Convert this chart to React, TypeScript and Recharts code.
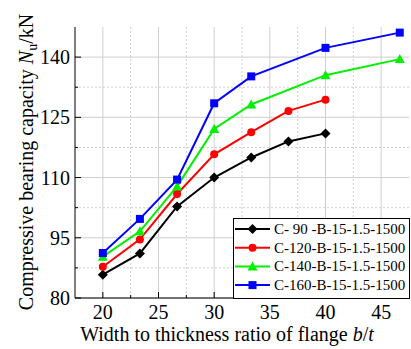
import React from 'react';
import { LineChart, Line, XAxis, YAxis, CartesianGrid } from 'recharts';

const ratios = [20, 23.33, 26.67, 30, 33.33, 36.67, 40, 46.67];
const c90 = [85.8, 91.1, 102.8, 110.0, 115.0, 119.0, 121.0, null];
const c120 = [87.8, 94.6, 105.9, 115.8, 121.3, 126.6, 129.4, null];
const c140 = [90.3, 96.6, 107.8, 122.1, 128.2, null, 135.5, 139.5];
const c160 = [91.2, 99.7, 109.5, 128.5, 135.2, null, 142.3, 146.1];
const seriesNames = ['C- 90 -B-15-1.5-1500', 'C-120-B-15-1.5-1500', 'C-140-B-15-1.5-1500', 'C-160-B-15-1.5-1500'];
const seriesKeys = ['c90', 'c120', 'c140', 'c160'];
const seriesColors = ['#000000', '#ff0000', '#00f000', '#0000ff'];
const seriesShapes = ['diamond', 'circle', 'triangle', 'square'];
const xMajorTicks = [20, 25, 30, 35, 40, 45];
const xMinorTicks = [22.5, 27.5, 32.5, 37.5, 42.5];
const yMajorTicks = [80, 95, 110, 125, 140];
const yMinorTicks = [87.5, 102.5, 117.5, 132.5];
const xDomain = [17.5, 47.5];
const yDomain = [80, 147.5];

const data = ratios.map((x, i) => ({ x, c90: c90[i], c120: c120[i], c140: c140[i], c160: c160[i] }));

const FONT = '"Liberation Serif", "Times New Roman", serif';

function Marker({ shape, cx, cy, color }: any) {
  if (cx == null || cy == null || isNaN(cy)) return null;
  if (shape === 'diamond') {
    return <polygon points={`${cx},${cy - 5} ${cx + 5},${cy} ${cx},${cy + 5} ${cx - 5},${cy}`} fill={color} />;
  }
  if (shape === 'circle') return <circle cx={cx} cy={cy} r={4} fill={color} />;
  if (shape === 'triangle') {
    return <polygon points={`${cx},${cy - 5} ${cx + 5},${cy + 4} ${cx - 5},${cy + 4}`} fill={color} />;
  }
  return <rect x={cx - 4} y={cy - 4} width={8} height={8} fill={color} />;
}

const allX = [...xMajorTicks, ...xMinorTicks].sort((a, b) => a - b);
const allY = [...yMajorTicks, ...yMinorTicks].sort((a, b) => a - b);

const BottomTick = (p: any) => {
  const major = xMajorTicks.includes(p.payload.value);
  return (
    <g>
      <line x1={p.x} x2={p.x} y1={p.y} y2={p.y - (major ? 6 : 3)} stroke="#000" />
      {major && (
        <text x={p.x} y={p.y + 21} textAnchor="middle" fontSize={20} fontFamily={FONT} fill="#000">
          {p.payload.value}
        </text>
      )}
    </g>
  );
};
const TopTick = (p: any) => {
  const major = xMajorTicks.includes(p.payload.value);
  return <line x1={p.x} x2={p.x} y1={p.y} y2={p.y + (major ? 6 : 3)} stroke="#000" />;
};
const LeftTick = (p: any) => {
  const major = yMajorTicks.includes(p.payload.value);
  return (
    <g>
      <line x1={p.x} x2={p.x + (major ? 6 : 3)} y1={p.y} y2={p.y} stroke="#000" />
      {major && (
        <text x={p.x - 5} y={p.y + 7} textAnchor="end" fontSize={20} fontFamily={FONT} fill="#000">
          {p.payload.value}
        </text>
      )}
    </g>
  );
};
const RightTick = (p: any) => {
  const major = yMajorTicks.includes(p.payload.value);
  return <line x1={p.x} x2={p.x - (major ? 6 : 3)} y1={p.y} y2={p.y} stroke="#000" />;
};

const YLabel = () => (
  <text transform="translate(33,162) rotate(-90)" textAnchor="middle" fontSize={20} fontFamily={FONT} fill="#000">
    Compressive bearing capacity <tspan fontStyle="italic">N</tspan>
    <tspan fontSize={14} dy={4}>u</tspan>
    <tspan dy={-4}>/kN</tspan>
  </text>
);

const XLabel = () => (
  <text x={227} y={341} textAnchor="middle" fontSize={20} fontFamily={FONT} fill="#000">
    Width to thickness ratio of flange <tspan fontStyle="italic">b</tspan>/<tspan fontStyle="italic">t</tspan>
  </text>
);

function LegendBox() {
  return (
    <svg width={177} height={81} style={{ position: 'absolute', left: 233, top: 218 }}>
      <rect x={0.5} y={0.5} width={176} height={80} fill="#fff" stroke="#000" />
      {seriesNames.map((name, i) => {
        const cy = 11 + i * 18.7;
        return (
          <g key={name}>
            <line x1={2} x2={37} y1={cy} y2={cy} stroke={seriesColors[i]} strokeWidth={2} />
            <Marker shape={seriesShapes[i]} cx={19.5} cy={cy} color={seriesColors[i]} />
            <text x={41} y={cy + 5} fontSize={15} fontFamily={FONT} fill="#000">
              {name}
            </text>
          </g>
        );
      })}
    </svg>
  );
}

export default function App() {
  return (
    <div style={{ position: 'absolute', left: 0, top: 0, width: 411, height: 349, background: '#fff' }}>
      <LineChart width={411} height={349} data={data} margin={{ top: 27, right: 2, bottom: 0, left: 0 }}>
        <CartesianGrid
          horizontalValues={yMinorTicks}
          verticalValues={xMinorTicks}
          stroke="#cfcfcf"
          strokeDasharray="2 2"
        />
        <CartesianGrid horizontalValues={yMajorTicks} verticalValues={xMajorTicks} stroke="#cfcfcf" />
        <XAxis
          dataKey="x"
          type="number"
          domain={xDomain}
          ticks={allX}
          interval={0}
          height={51}
          tickSize={0}
          tickMargin={0}
          tickLine={false}
          tick={BottomTick}
          axisLine={{ stroke: '#000' }}
          allowDataOverflow
          label={{ content: XLabel }}
        />
        <XAxis
          xAxisId="top"
          orientation="top"
          dataKey="x"
          type="number"
          domain={xDomain}
          ticks={allX}
          interval={0}
          height={0}
          tickSize={0}
          tickMargin={0}
          tickLine={false}
          tick={TopTick}
          axisLine={{ stroke: '#000' }}
          allowDataOverflow
        />
        <YAxis
          type="number"
          domain={yDomain}
          ticks={allY}
          interval={0}
          width={75}
          tickSize={0}
          tickMargin={0}
          tickLine={false}
          tick={LeftTick}
          axisLine={{ stroke: '#000' }}
          allowDataOverflow
          label={{ content: YLabel }}
        />
        <YAxis
          yAxisId="right"
          orientation="right"
          type="number"
          domain={yDomain}
          ticks={allY}
          interval={0}
          width={0}
          tickSize={0}
          tickMargin={0}
          tickLine={false}
          tick={RightTick}
          axisLine={{ stroke: '#000' }}
          allowDataOverflow
        />
        {seriesKeys.map((k, i) => (
          <Line
            key={k}
            dataKey={k}
            stroke={seriesColors[i]}
            strokeWidth={2}
            connectNulls
            isAnimationActive={false}
            dot={(p: any) => <Marker key={`${k}-${p.index}`} shape={seriesShapes[i]} cx={p.cx} cy={p.cy} color={seriesColors[i]} />}
            activeDot={false}
          />
        ))}
      </LineChart>
      <LegendBox />
    </div>
  );
}
